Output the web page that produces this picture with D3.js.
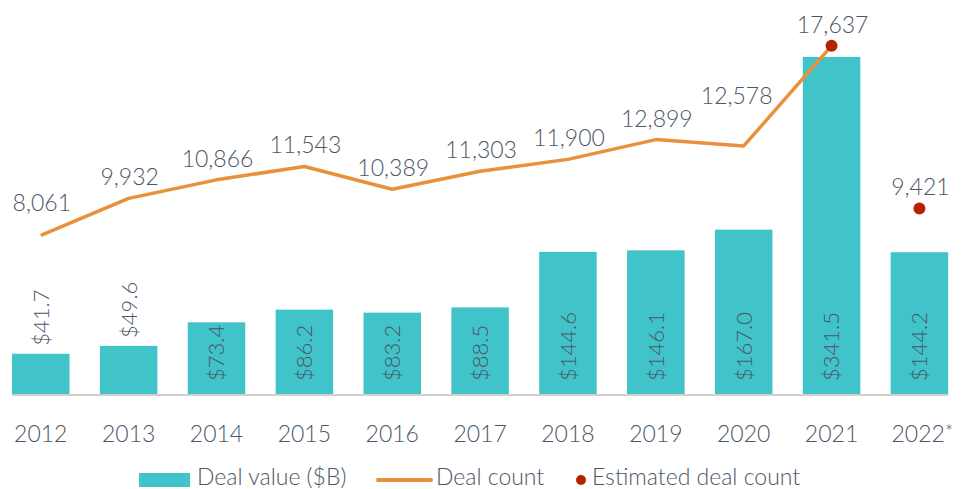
<!DOCTYPE html>
<html>
<head>
<meta charset="utf-8">
<script src="https://cdn.jsdelivr.net/npm/d3@7/dist/d3.min.js"></script>
<style>
  html, body { margin: 0; padding: 0; background: #fff; }
  svg text { font-family: Lato, "Open Sans", sans-serif; font-weight: 300; fill: #4b5666; }
</style>
</head>
<body>
<div id="chart"></div>
<script>
(function() {
    const years = ['2012', '2013', '2014', '2015', '2016', '2017', '2018', '2019', '2020', '2021', '2022*'];
    const dealValue = [41.7, 49.6, 73.4, 86.2, 83.2, 88.5, 144.6, 146.1, 167.0, 341.5, 144.2];
    const dealCount = [8061, 9932, 10866, 11543, 10389, 11303, 11900, 12899, 12578, 17637, null];
    const estimatedCount = [null, null, null, null, null, null, null, null, null, 17637, 9421];
    const legendLabels = ['Deal value ($B)', 'Deal count', 'Estimated deal count'];

    const teal = '#40c4c9',
        orange = '#e8913a',
        red = '#b52200';

    const width = 970,
        height = 489,
        baseY = 395;

    // nudges for count labels that would collide with the line
    const labelLift = { '2012': 24, '2020': 42 };
    const labelShift = { '2020': -8 };

    const svg = d3.select('#chart')
        .append('svg')
        .attr('width', width)
        .attr('height', height);

    const x = d3.scaleBand()
        .domain(years)
        .range([-2.9, 963.1])
        .paddingInner(0.3456)
        .paddingOuter(0.17);

    const yValue = d3.scaleLinear()
        .domain([0, 350])
        .range([baseY, baseY - 350 * 0.99]);

    const yCount = d3.scaleLinear()
        .domain([0, 20000])
        .range([baseY, -1]);

    const cx = d => x(d) + x.bandwidth() / 2;

    // bars
    svg.selectAll('rect.bar')
        .data(years)
        .enter()
        .append('rect')
        .attr('class', 'bar')
        .attr('x', d => x(d))
        .attr('width', x.bandwidth())
        .attr('y', (d, i) => yValue(dealValue[i]))
        .attr('height', (d, i) => baseY - yValue(dealValue[i]))
        .style('fill', teal);

    // baseline
    svg.append('line')
        .attr('x1', x(years[0]))
        .attr('x2', x(years[years.length - 1]) + x.bandwidth())
        .attr('y1', baseY)
        .attr('y2', baseY)
        .style('stroke', '#d3cfca')
        .style('stroke-width', 2);

    // bar labels, rotated; inside the bar when it fits, above otherwise
    svg.selectAll('text.val')
        .data(years)
        .enter()
        .append('text')
        .attr('class', 'val')
        .attr('font-size', '22px')
        .attr('dy', '0.36em')
        .text((d, i) => '$' + dealValue[i].toFixed(1))
        .each(function(d, i) {
            const len = this.getComputedTextLength();
            const top = yValue(dealValue[i]);
            const barH = baseY - top;
            const start = barH >= len + 16 ? baseY - 14 : top - 8;
            d3.select(this)
                .attr('transform', 'translate(' + cx(d) + ',' + start + ') rotate(-90)');
        });

    // count line
    const line = d3.line()
        .defined(d => d[1] != null)
        .x(d => cx(d[0]))
        .y(d => yCount(d[1]));

    svg.append('path')
        .datum(years.map((d, i) => [d, dealCount[i]]))
        .attr('d', line)
        .style('fill', 'none')
        .style('stroke', orange)
        .style('stroke-width', 3.5)
        .style('stroke-linejoin', 'round');

    // estimated dots
    svg.selectAll('circle.est')
        .data(years.filter((d, i) => estimatedCount[i] != null))
        .enter()
        .append('circle')
        .attr('class', 'est')
        .attr('cx', cx)
        .attr('cy', d => yCount(estimatedCount[years.indexOf(d)]))
        .attr('r', 6)
        .style('fill', red);

    // count labels
    const countLabel = years.map((d, i) => dealCount[i] != null ? dealCount[i] : estimatedCount[i]);
    svg.selectAll('text.cnt')
        .data(years)
        .enter()
        .append('text')
        .attr('class', 'cnt')
        .attr('font-size', '23px')
        .attr('text-anchor', 'middle')
        .attr('x', d => cx(d) + (labelShift[d] || 0) + 1)
        .attr('y', (d, i) => yCount(countLabel[i]) - (labelLift[d] || 13))
        .text((d, i) => d3.format(',')(countLabel[i]));

    // year axis labels
    svg.selectAll('text.year')
        .data(years)
        .enter()
        .append('text')
        .attr('class', 'year')
        .attr('font-size', '23px')
        .attr('text-anchor', 'middle')
        .attr('x', d => cx(d) + (d.endsWith('*') ? 3 : 0))
        .attr('y', 442)
        .text(d => d.replace('*', ''))
        .filter(d => d.endsWith('*'))
        .append('tspan')
        .attr('font-size', '20px')
        .attr('dy', '-3')
        .text('*');

    // legend
    const legend = svg.append('g').attr('transform', 'translate(0,485)');

    legend.append('rect')
        .attr('x', 139).attr('y', -12)
        .attr('width', 51).attr('height', 14)
        .style('fill', teal);
    legend.append('text')
        .attr('x', 197).attr('font-size', '23px')
        .text(legendLabels[0]);

    legend.append('line')
        .attr('x1', 378).attr('x2', 431)
        .attr('y1', -5).attr('y2', -5)
        .style('stroke', orange)
        .style('stroke-width', 4)
        .style('stroke-linecap', 'round');
    legend.append('text')
        .attr('x', 436).attr('font-size', '23px')
        .text(legendLabels[1]);

    legend.append('circle')
        .attr('cx', 581).attr('cy', -5)
        .attr('r', 5)
        .style('fill', red);
    legend.append('text')
        .attr('x', 592).attr('font-size', '23px')
        .text(legendLabels[2]);
})();
</script>
</body>
</html>
